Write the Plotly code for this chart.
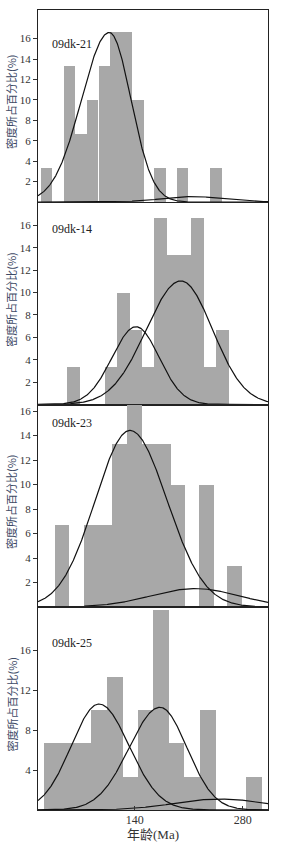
import numpy as np
import plotly.graph_objects as go
from plotly.subplots import make_subplots

# ---- data ----
samples = ["09dk-21", "09dk-14", "09dk-23", "09dk-25"]

p1_age = [25.9, 55.7, 70.4, 85.5, 100.7, 115.1, 129.6, 144.3, 172.6, 201.8, 245.3]
p1_pct = [3.33, 13.33, 6.67, 10, 13.33, 16.67, 16.67, 10, 3.33, 3.33, 3.33]
p1_bin = 14.7
p1_mean = [107.1, 216.0]
p1_sig_left = [36.0, 40.0]
p1_sig_right = [28.0, 40.0]
p1_peak = [16.6, 0.53]

p2_age = [60.6, 109.5, 125.7, 141.9, 157.7, 173.5, 189.4, 205.2, 221.7, 238.0, 253.9]
p2_pct = [3.33, 3.33, 10, 6.67, 3.33, 16.67, 13.33, 13.33, 16.67, 3.33, 6.67]
p2_bin = 15.9
p2_mean = [141.7, 200.0]
p2_sig_left = [31.0, 45.0]
p2_sig_right = [30.0, 41.0]
p2_peak = [6.95, 11.04]

p3_age = [45.7, 83.5, 102.2, 120.6, 139.4, 158.5, 177.3, 196.0, 233.0, 269.5]
p3_pct = [6.67, 6.67, 6.67, 13.33, 16.67, 13.33, 13.33, 10, 10, 3.33]
p3_bin = 18.7
p3_mean = [133.9, 218.2]
p3_sig_left = [45.0, 57.0]
p3_sig_right = [48.0, 57.0]
p3_peak = [14.42, 1.51]

p4_age = [32.5, 52.7, 72.8, 93.3, 114.0, 134.4, 154.2, 174.1, 194.2, 214.5, 234.9, 294.6]
p4_pct = [6.67, 6.67, 6.67, 10, 13.33, 3.33, 10, 20, 6.67, 3.33, 10, 3.33]
p4_bin = 20.2
p4_mean = [93.7, 172.8, 250.6]
p4_sig_left = [36.0, 40.0, 58.0]
p4_sig_right = [39.0, 35.0, 60.0]
p4_peak = [10.6, 10.27, 1.1]

y_ticks = [[2, 4, 6, 8, 10, 12, 14, 16]] * 3 + [[4, 8, 12, 16]]
y_max = [18.8, 18.0, 16.5, 20.3]
x_ticks = [140, 280]
x_range = [14.6, 312.9]

panels = [
    (p1_age, p1_pct, p1_bin, p1_mean, p1_sig_left, p1_sig_right, p1_peak),
    (p2_age, p2_pct, p2_bin, p2_mean, p2_sig_left, p2_sig_right, p2_peak),
    (p3_age, p3_pct, p3_bin, p3_mean, p3_sig_left, p3_sig_right, p3_peak),
    (p4_age, p4_pct, p4_bin, p4_mean, p4_sig_left, p4_sig_right, p4_peak),
]

# ---- layout geometry ----
W, H = 282, 851
ML, MR, MT, MB = 38, 14, 10, 41
plot_h = H - MT - MB
bounds = [(10, 202), (203, 404.5), (405, 607), (607, 810)]

fig = make_subplots(rows=4, cols=1, shared_xaxes=False, vertical_spacing=0)

SERIF = "Liberation Serif, Times New Roman, serif"
CJK = "Noto Sans CJK SC"
BAR = "#a8a8a8"

xs = np.linspace(x_range[0], x_range[1], 500)
for i, (age, pct, wbin, means, sl, sr, peaks) in enumerate(panels):
    r = i + 1
    fig.add_trace(go.Bar(x=age, y=pct, width=wbin * 1.01, marker=dict(color=BAR, line=dict(width=0)),
                         showlegend=False, hoverinfo="skip"), row=r, col=1)
    for m, s_l, s_r, p in zip(means, sl, sr, peaks):
        s = np.where(xs < m, s_l, s_r)
        ys = p * np.exp(-0.5 * ((xs - m) / s) ** 2)
        fig.add_trace(go.Scatter(x=xs, y=ys, mode="lines", line=dict(color="#111111", width=1.2),
                                 showlegend=False, hoverinfo="skip"), row=r, col=1)

for i in range(4):
    top, bot = bounds[i]
    d0 = (H - MB - bot) / plot_h
    d1 = (H - MB - top) / plot_h
    xa = "xaxis" if i == 0 else f"xaxis{i+1}"
    ya = "yaxis" if i == 0 else f"yaxis{i+1}"
    last = i == 3
    fig.layout[xa].update(
        range=x_range, showgrid=False, zeroline=False, automargin=False,
        showline=True, linecolor="#222", linewidth=1.2, mirror=True,
        tickvals=x_ticks if last else [], ticks="inside" if last else "",
        ticklen=4, tickcolor="#333", showticklabels=last, ticklabelstandoff=-2,
        tickfont=dict(family=SERIF, size=12, color="#333"),
    )
    fig.layout[ya].update(
        domain=[d0, d1], range=[0, y_max[i]], showgrid=False, zeroline=False, automargin=False,
        showline=True, linecolor="#222", linewidth=1.2, mirror=True,
        tickvals=y_ticks[i], ticks="outside", ticklen=4, tickcolor="#333",
        tickfont=dict(family=SERIF, size=11, color="#333"),
    )
    fig.add_annotation(text="密度所占百分比(%)", xref="paper", yref="paper",
                       x=-27 / (W - ML - MR), xanchor="center",
                       y=(H - MB - (top + bot) / 2 + 4) / plot_h, yanchor="middle",
                       textangle=-90, showarrow=False,
                       font=dict(family=CJK, size=11, color="#3d4a66"))

fig.add_annotation(text="年龄(Ma)", xref="paper", yref="paper", x=0.5, xanchor="center",
                   y=-(834 - (H - MB)) / plot_h, yanchor="middle", showarrow=False,
                   font=dict(family=SERIF + ", " + CJK, size=13, color="#333"))

label_y = [44, 229, 423, 643]
for i, name in enumerate(samples):
    top, bot = bounds[i]
    frac = (bot - label_y[i]) / (bot - top)
    xr = "x domain" if i == 0 else f"x{i+1} domain"
    yr = "y domain" if i == 0 else f"y{i+1} domain"
    fig.add_annotation(text=name, xref=xr, yref=yr, x=0.05, y=frac, xanchor="left", yanchor="middle",
                       showarrow=False, font=dict(family=SERIF, size=12, color="#222"))

fig.update_layout(
    width=W, height=H, margin=dict(l=ML, r=MR, t=MT, b=MB, autoexpand=False),
    plot_bgcolor="white", paper_bgcolor="white", bargap=0,
)

fig.write_html("out.html", config={"displayModeBar": False},
               post_script="document.body.style.margin='0';document.body.style.overflow='hidden';")
